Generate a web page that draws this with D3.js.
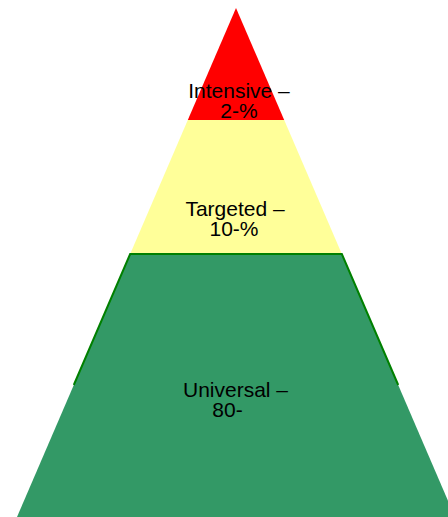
<!DOCTYPE html>
<html>
<head>
<meta charset="utf-8">
<script src="https://cdn.jsdelivr.net/npm/d3@7"></script>
<style>
  html, body { margin: 0; padding: 0; background: #fff; }
  svg { display: block; }
</style>
</head>
<body>
<svg width="448" height="517"></svg>
<script>
  // tiers of the pyramid, top to bottom
  const tiers = ["Intensive", "Targeted", "Universal"];
  const shares = ["2-%", "10-%", "80-"];
  const colors = ["#ff0000", "#ffff99", "#339966"];

  const svg = d3.select("svg");
  const cx = 236;
  const apexY = 8;

  // vertical positions of the tier edges (px) and half-width of the pyramid at a given y
  const edges = [apexY, 120, 254, 517];
  const half = d3.scaleLinear().domain([apexY, 517]).range([0, 219]);

  const band = (y0, y1) => {
    return [
      [cx - half(y0), y0],
      [cx + half(y0), y0],
      [cx + half(y1), y1],
      [cx - half(y1), y1]
    ];
  };

  const line = d3.line();

  svg.append("g")
    .selectAll("path")
    .data(tiers)
    .enter()
    .append("path")
    .attr("fill", (d, i) => colors[i])
    .attr("d", (d, i) => line(band(edges[i], edges[i + 1])) + "Z");

  // the green outline only runs over the upper part of the base tier
  const y0 = edges[2], y1 = 385;
  svg.append("path")
    .attr("fill", "none")
    .attr("stroke", "#008000")
    .attr("stroke-width", 2)
    .attr("d", line([
      [cx - half(y1), y1],
      [cx - half(y0), y0],
      [cx + half(y0), y0],
      [cx + half(y1), y1]
    ]));

  // labels
  const labelX = [239, 235, 235.5];
  const labelY = [98, 216, 397];
  const secondDx = [0, -1, -8];

  const labels = svg.append("g")
    .attr("font-family", "'Liberation Sans', Arial, sans-serif")
    .attr("font-size", 21)
    .attr("fill", "#000")
    .attr("text-anchor", "middle")
    .selectAll("text")
    .data(tiers)
    .enter()
    .append("text")
    .attr("x", (d, i) => labelX[i])
    .attr("y", (d, i) => labelY[i]);

  labels.append("tspan")
    .text(d => d + " \u2013");

  labels.append("tspan")
    .attr("x", (d, i) => labelX[i] + secondDx[i])
    .attr("dy", 20)
    .text((d, i) => shares[i]);
</script>
</body>
</html>
